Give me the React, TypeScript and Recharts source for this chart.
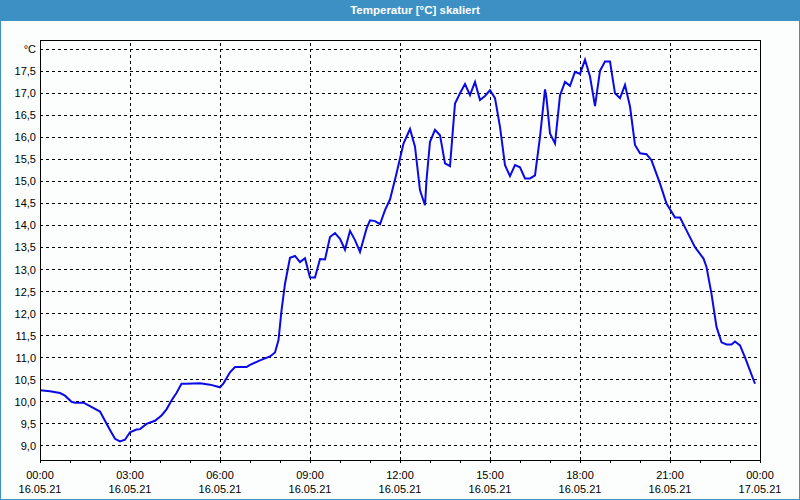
import React from 'react';
import { LineChart, Line, XAxis, YAxis, CartesianGrid, ReferenceLine } from 'recharts';

// minutes since 16.05.21 00:00
const minutes = [
  0, 20, 40, 50, 63, 70, 87, 100, 120, 130, 140, 150, 160, 170, 180, 193, 200, 213, 230, 243,
  253, 263, 273, 283, 293, 320, 340, 360, 367, 380, 390, 413, 420, 440, 460, 470, 477, 483, 490, 500,
  510, 520, 530, 540, 550, 560, 570, 580, 590, 600, 610, 620, 630, 640, 653, 660, 670, 680, 690, 700,
  713, 727, 740, 750, 760, 770, 773, 780, 790, 800, 810, 820, 830, 840, 850, 860, 870, 880, 890, 900,
  910, 920, 930, 940, 950, 960, 970, 980, 990, 1000, 1010, 1013, 1020, 1030, 1040, 1050, 1060, 1070, 1080, 1090,
  1100, 1110, 1120, 1130, 1140, 1150, 1160, 1170, 1180, 1190, 1200, 1213, 1223, 1240, 1253, 1270, 1280, 1293, 1310, 1327,
  1333, 1343, 1353, 1363, 1373, 1383, 1390, 1400, 1410, 1420, 1430,
];

const temps = [
  10.26, 10.24, 10.2, 10.14, 10.0, 9.98, 9.98, 9.9, 9.78, 9.57, 9.36, 9.16, 9.1, 9.14, 9.31, 9.37, 9.38, 9.5, 9.57, 9.69,
  9.83, 10.03, 10.2, 10.41, 10.41, 10.42, 10.39, 10.33, 10.42, 10.67, 10.79, 10.79, 10.84, 10.94, 11.03, 11.12, 11.4, 12.07, 12.68, 13.27,
  13.31, 13.17, 13.26, 12.82, 12.82, 13.24, 13.23, 13.74, 13.83, 13.7, 13.45, 13.88, 13.67, 13.4, 13.93, 14.12, 14.1, 14.03, 14.35, 14.59,
  15.18, 15.86, 16.19, 15.79, 14.8, 14.46, 15.03, 15.9, 16.17, 16.05, 15.41, 15.35, 16.77, 17.0, 17.21, 16.96, 17.26, 16.85, 16.94, 17.07,
  16.89, 16.24, 15.37, 15.12, 15.37, 15.32, 15.07, 15.07, 15.14, 16.01, 17.09, 16.89, 16.09, 15.86, 16.95, 17.26, 17.17, 17.49, 17.44, 17.76,
  17.38, 16.71, 17.51, 17.72, 17.72, 17.0, 16.89, 17.19, 16.7, 15.83, 15.64, 15.62, 15.48, 14.95, 14.5, 14.18, 14.18, 13.89, 13.51, 13.25,
  13.06, 12.45, 11.7, 11.35, 11.3, 11.3, 11.37, 11.28, 11.01, 10.71, 10.41,
];

const hourTicks = [0, 60, 120, 180, 240, 300, 360, 420, 480, 540, 600, 660, 720, 780, 840, 900, 960, 1020, 1080, 1140, 1200, 1260, 1320, 1380, 1440];
const labelTicks = [0, 180, 360, 540, 720, 900, 1080, 1260, 1440];
const timeLabels = ['00:00', '03:00', '06:00', '09:00', '12:00', '15:00', '18:00', '21:00', '00:00'];
const dateLabels = ['16.05.21', '16.05.21', '16.05.21', '16.05.21', '16.05.21', '16.05.21', '16.05.21', '16.05.21', '17.05.21'];
const gridTicks = [180, 360, 540, 720, 900, 1080, 1260];
const yTicks = [9, 9.5, 10, 10.5, 11, 11.5, 12, 12.5, 13, 13.5, 14, 14.5, 15, 15.5, 16, 16.5, 17, 17.5, 18];
const xDomain = [0, 1440];
const yDomain = [8.68, 18.21];

const data = minutes.map((m, i) => ({ t: m, temp: temps[i] }));

const FONT = '"Liberation Sans", Arial, sans-serif';
const BLUE = '#3d90c4';

const TimeTick = (props: any) => {
  const { x, y, payload } = props;
  const i = labelTicks.indexOf(payload.value);
  if (i < 0) return <g />;
  return (
    <text x={x} y={y} textAnchor="middle" fontSize={11} fontFamily={FONT} fill="#000">
      <tspan x={x} dy={14}>{timeLabels[i]}</tspan>
      <tspan x={x} dy={14}>{dateLabels[i]}</tspan>
    </text>
  );
};

const fmtY = (v: number) => (v === 18 ? '°C' : v.toFixed(1).replace('.', ','));

export default function App() {
  return (
    <div
      style={{
        position: 'absolute',
        left: 0,
        top: 0,
        width: 800,
        height: 500,
        boxSizing: 'border-box',
        border: `1px solid ${BLUE}`,
        background: '#fcfefd',
        fontFamily: FONT,
      }}
    >
      <div
        style={{
          position: 'absolute',
          left: -1,
          top: -1,
          width: 800,
          height: 21,
          background: BLUE,
          color: '#fff',
          fontWeight: 'bold',
          fontSize: 11.5,
          lineHeight: '21px',
        }}
      >
        <span style={{ position: 'absolute', left: 415, transform: 'translateX(-50%)', whiteSpace: 'nowrap' }}>
          Temperatur [°C] skaliert
        </span>
      </div>
      <div style={{ position: 'absolute', left: -1, top: -1 }}>
        <LineChart width={800} height={500} data={data} margin={{ top: 40, right: 40, bottom: 0, left: 0 }}>
          <CartesianGrid vertical={false} stroke="#000" strokeDasharray="3 3" shapeRendering="crispEdges" />
          {gridTicks.map((g) => (
            <ReferenceLine key={g} x={g} stroke="#000" strokeDasharray="3 3" shapeRendering="crispEdges" />
          ))}
          {/* solid frame on top and right */}
          <ReferenceLine y={yDomain[1]} stroke="#000" shapeRendering="crispEdges" />
          <ReferenceLine x={xDomain[1]} stroke="#000" shapeRendering="crispEdges" />
          <XAxis
            dataKey="t"
            type="number"
            domain={xDomain}
            ticks={hourTicks}
            interval={0}
            height={40}
            tickSize={3}
            tickMargin={2}
            tick={<TimeTick />}
            tickLine={{ stroke: '#000', shapeRendering: 'crispEdges' }}
            axisLine={{ stroke: '#000', shapeRendering: 'crispEdges' }}
          />
          <YAxis
            type="number"
            domain={yDomain}
            ticks={yTicks}
            interval={0}
            width={40}
            tickSize={0}
            tickMargin={4}
            tickFormatter={fmtY}
            tick={{ fontSize: 11, fill: '#000', fontFamily: FONT }}
            tickLine={false}
            axisLine={{ stroke: '#000', shapeRendering: 'crispEdges' }}
            allowDataOverflow
          />
          <Line
            type="linear"
            dataKey="temp"
            stroke="#0a0ae6"
            strokeWidth={2}
            dot={false}
            isAnimationActive={false}
          />
        </LineChart>
      </div>
    </div>
  );
}
